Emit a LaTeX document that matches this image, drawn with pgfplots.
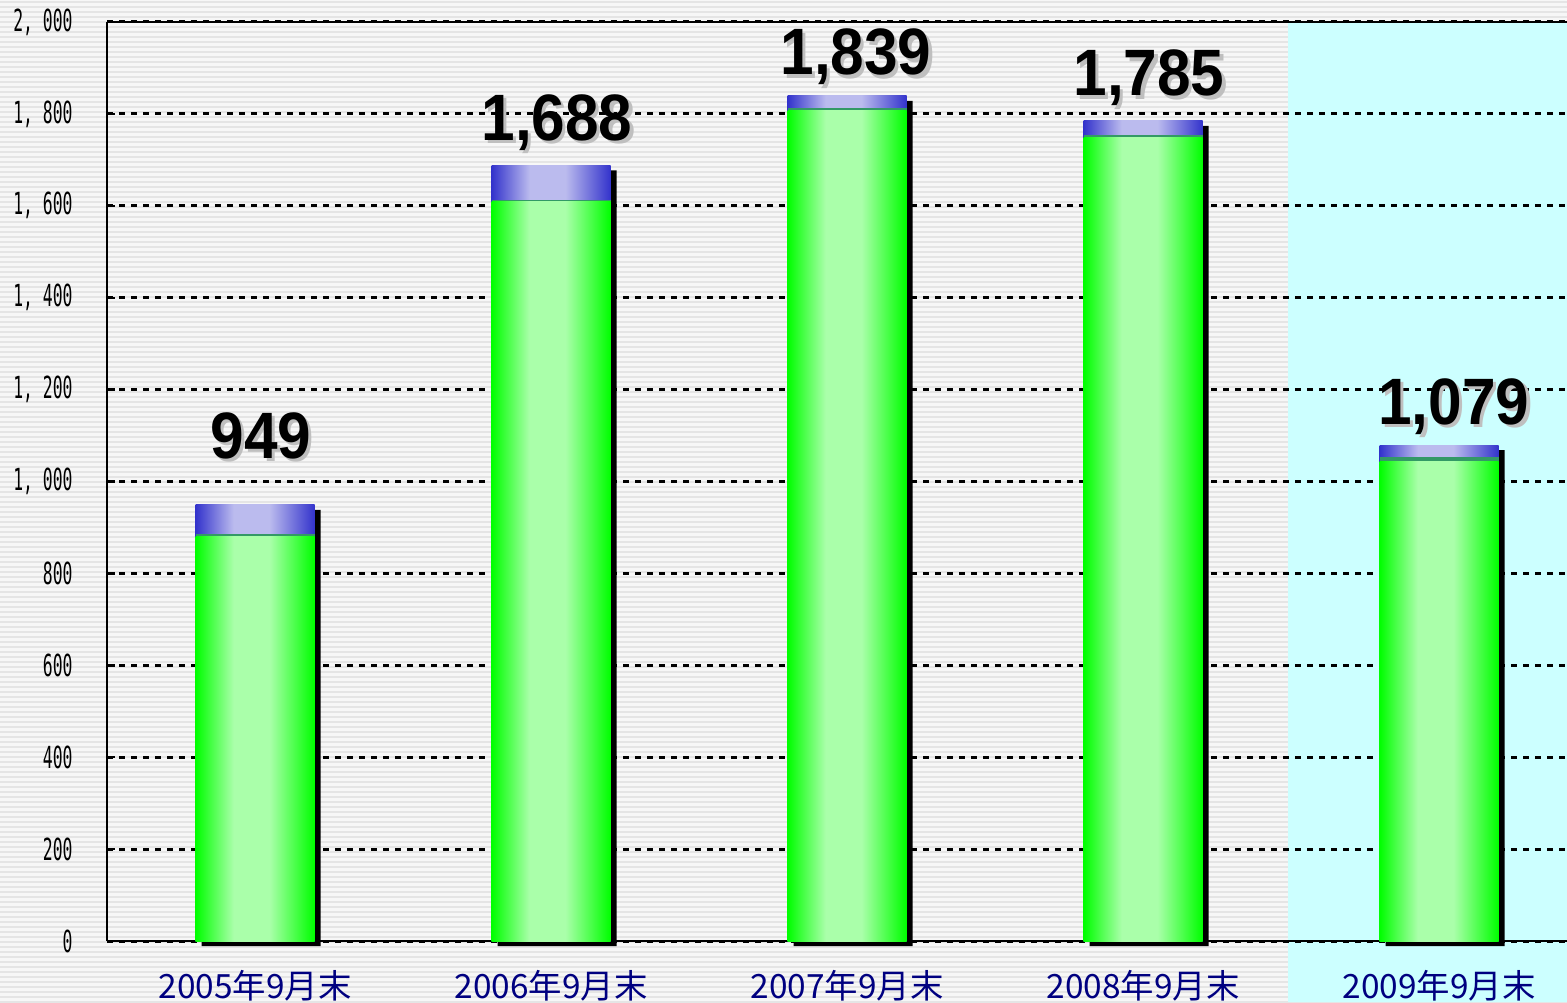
\documentclass[border=0pt]{standalone}
\usepackage{pgfplots}
\pgfplotsset{compat=1.18}
\usepackage{fontspec}
\setmainfont{Liberation Sans}
\newfontfamily\cjk{Noto Sans CJK JP}
\newfontfamily\tickfont[FakeStretch=0.54]{DejaVu Sans Mono}
\newfontfamily\valfont[FakeStretch=0.92]{Liberation Sans}
\definecolor{barGreen}{HTML}{00FF00}
\definecolor{barGreenLight}{HTML}{AAFFAA}
\definecolor{barBlue}{HTML}{3333CC}
\definecolor{barBlueLight}{HTML}{BBBBEE}
\definecolor{joinGreen}{HTML}{339966}
\definecolor{labelNavy}{HTML}{000080}
\definecolor{bgCyan}{HTML}{CCFFFF}
%% left-to-right shadings, with a broad light middle
\pgfdeclarehorizontalshading{greenBar}{100bp}{%
  color(0bp)=(barGreen); color(25bp)=(barGreen); color(41bp)=(barGreenLight);
  color(56bp)=(barGreenLight); color(75bp)=(barGreen); color(100bp)=(barGreen)}
\pgfdeclarehorizontalshading{blueBar}{100bp}{%
  color(0bp)=(barBlue); color(25bp)=(barBlue); color(41bp)=(barBlueLight);
  color(56bp)=(barBlueLight); color(75bp)=(barBlue); color(100bp)=(barBlue)}
%% value label with its gray drop shadow, set as one box
\newcommand{\shadowed}[1]{%
  \rlap{\hspace{1.6pt}\raisebox{-1.6pt}{\textcolor{black!25}{#1}}}#1}

\begin{document}
\begin{tikzpicture}
%% background: stripes, then the cyan band of the last year
\fill[white!97!black] (0,0) rectangle (783.5pt,501pt);
\foreach \i in {0,...,200} {
  \draw[white!90!black, line width=0.6pt] (0,\i*2.5pt) -- (783.5pt,\i*2.5pt);
}
\fill[bgCyan] (644pt,0) rectangle (783.5pt,490pt);

\begin{axis}[%
  at={(53.5pt,30.5pt)}, anchor=south west,
  scale only axis,
  width=730pt, height=459.5pt,
  xmin=-0.5, xmax=4.432,
  ymin=0, ymax=2000,
  clip=false,
  axis x line*=bottom, axis y line*=left,
  axis line style={line width=1.2pt, black, -},
  ytick={0,200,...,2000},
  yticklabels={0,200,400,600,800,{1,\ 000},{1,\ 200},{1,\ 400},{1,\ 600},{1,\ 800},{2,\ 000}},
  yticklabel style={font=\tickfont\fontsize{15.2}{16}\selectfont, anchor=east, inner sep=0pt, xshift=-17pt},
  ymajorgrids,
  grid style={black, line width=1.5pt, dash pattern=on 3pt off 3pt},
  tick align=inside,
  major tick length=4pt,
  tick style={black, line width=1.2pt},
  xtick={0,1,2,3,4},
  xticklabels={2005年9月末,2006年9月末,2007年9月末,2008年9月末,2009年9月末},
  xticklabel style={font=\cjk\fontsize{16.7}{18}\selectfont, text=labelNavy, anchor=base, yshift=-28.5pt},
  major x tick style={draw=none},
  extra x ticks={0.5,1.5,2.5,3.5},
  extra x tick labels={},
  extra x tick style={major tick length=4.5pt, tick style={draw=black, line width=0.8pt}, grid=none},
  barBase/.style={ybar, bar width=59.5pt, bar shift=0pt, draw=none},
  blueTop/.style={barBase, shading=blueBar},
  joinLine/.style={barBase, fill=joinGreen},
  greenBody/.style={barBase, shading=greenBar},
]
%% top border line
\draw[black, line width=1pt] (rel axis cs:0,1) -- (rel axis cs:1,1);

%% shadow of each bar
\addplot[ybar, bar width=59.5pt, bar shift=3pt, yshift=-2.5pt, fill=black, draw=none] coordinates {
  (0,949) (1,1688) (2,1839) (3,1785) (4,1079)
};

%% one plot per bar so that each bar gets its own shading
%% 2005
\addplot[blueTop]   coordinates {(0,949)};
\addplot[joinLine]  coordinates {(0,885)};
\addplot[greenBody] coordinates {(0,880)};
%% 2006
\addplot[blueTop]   coordinates {(1,1688)};
\addplot[joinLine]  coordinates {(1,1612)};
\addplot[greenBody] coordinates {(1,1609)};
%% 2007
\addplot[blueTop]   coordinates {(2,1839)};
\addplot[joinLine]  coordinates {(2,1812)};
\addplot[greenBody] coordinates {(2,1808)};
%% 2008
\addplot[blueTop]   coordinates {(3,1785)};
\addplot[joinLine]  coordinates {(3,1754)};
\addplot[greenBody] coordinates {(3,1749)};
%% 2009
\addplot[blueTop]   coordinates {(4,1079)};
\addplot[joinLine]  coordinates {(4,1053)};
\addplot[greenBody] coordinates {(4,1044)};

%% value labels
\addplot[draw=none, mark=none, nodes near coords={\shadowed{\pgfplotspointmeta}},
  point meta=explicit symbolic,
  nodes near coords style={anchor=base, text=black,
    font=\valfont\bfseries\fontsize{32.8}{34}\selectfont}]
  table[meta=label] {
x y label
0.02 1051 949
1.02 1743 {1,688}
2.03 1885 {1,839}
3.02 1839 {1,785}
4.05 1125 {1,079}
};
\end{axis}
\pgfresetboundingbox
\useasboundingbox (0,0) rectangle (783.5pt,501pt);
\end{tikzpicture}
\end{document}
